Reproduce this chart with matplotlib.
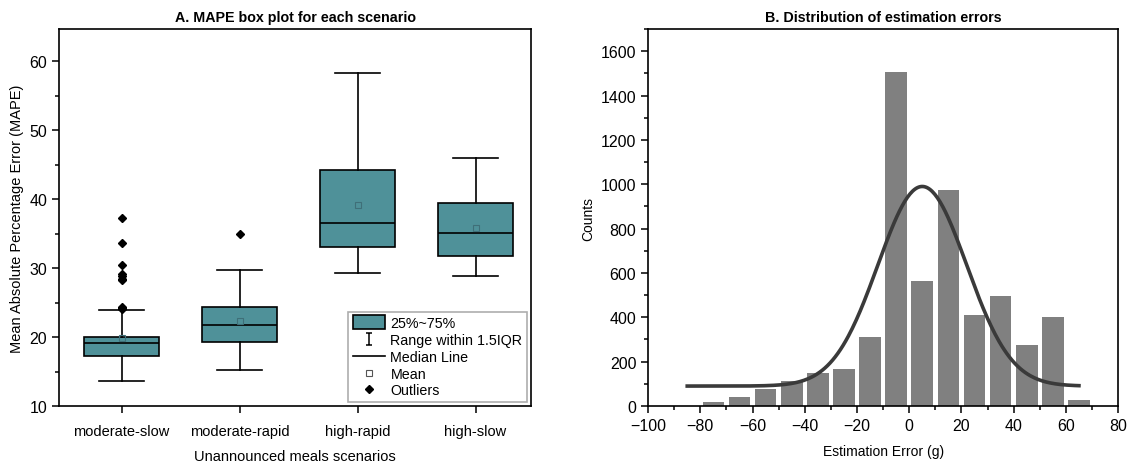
import matplotlib.pyplot as plt
import numpy as np
from matplotlib.legend_handler import HandlerPatch
from matplotlib.lines import Line2D
from matplotlib.patches import Patch, Rectangle
from matplotlib.path import Path
from matplotlib.ticker import MultipleLocator

plt.rcParams['font.family'] = ['Liberation Sans', 'DejaVu Sans']

# A. box plot summaries
scenarios = ["moderate-slow", "moderate-rapid", "high-rapid", "high-slow"]
whisker_low = [13.7, 15.2, 29.3, 28.9]
q1 = [17.3, 19.3, 33.1, 31.7]
median = [19.2, 21.8, 36.6, 35.1]
q3 = [20.0, 24.3, 44.2, 39.4]
whisker_high = [23.9, 29.8, 58.3, 46.0]
means = [19.9, 22.3, 39.2, 35.9]
outliers = [
    [37.3, 33.7, 30.5, 29.1, 28.8, 28.5, 28.3, 24.4, 24.2, 24.1],
    [35.0],
    [],
    [],
]

# B. histogram of estimation errors
bin_centers = [-75, -65, -55, -45, -35, -25, -15, -5, 5, 15, 25, 35, 45, 55, 65]
counts = [20, 40, 75, 115, 150, 165, 310, 1505, 565, 975, 410, 497, 275, 403, 28]
# gaussian fit parameters (with baseline)
fit_base = 90
fit_amp = 900
fit_center = 5
fit_sigma = 17.0
fit_range = (-85, 65)

teal = "#4f9199"
lw = 1.2

fig = plt.figure(figsize=(11.31, 4.64), dpi=100)
ax1 = fig.add_axes([0.0522, 0.1228, 0.4173, 0.8125])
ax2 = fig.add_axes([0.573, 0.1228, 0.4156, 0.8125])

stats = []
for i in range(len(scenarios)):
    stats.append(dict(med=median[i], q1=q1[i], q3=q3[i], whislo=whisker_low[i],
                      whishi=whisker_high[i], mean=means[i], fliers=outliers[i],
                      label=scenarios[i]))

ax1.bxp(stats, positions=[1, 2, 3, 4], widths=0.64, patch_artist=True,
        showmeans=True, capwidths=0.38,
        boxprops=dict(facecolor=teal, edgecolor="black", linewidth=lw),
        medianprops=dict(color="black", linewidth=lw),
        whiskerprops=dict(color="black", linewidth=lw),
        capprops=dict(color="black", linewidth=lw),
        meanprops=dict(marker="s", markersize=4, markerfacecolor="none",
                       markeredgecolor="#3f6f78", markeredgewidth=0.8),
        flierprops=dict(marker="D", markersize=4.5, markerfacecolor="black",
                        markeredgecolor="black"))

ax1.set_xlim(0.47, 4.47)
ax1.set_ylim(10, 64.7)
ax1.yaxis.set_major_locator(MultipleLocator(10))
ax1.yaxis.set_minor_locator(MultipleLocator(5))
ax1.tick_params(axis='both', which='major', labelsize=11.5, length=5, width=1.1)
ax1.tick_params(axis='y', which='minor', length=3, width=1.1)
ax1.tick_params(axis='x', labelsize=10.5, pad=8)
ax1.set_title("A. MAPE box plot for each scenario", fontsize=10.3, fontweight='bold', pad=6)
ax1.set_xlabel("Unannounced meals scenarios", fontsize=10.5, labelpad=8)
ax1.set_ylabel("Mean Absolute Percentage Error (MAPE)", fontsize=10.5)
for s in ax1.spines.values():
    s.set_linewidth(1.2)


def big_box(legend, orig_handle, xdescent, ydescent, width, height, fontsize):
    return Rectangle((-xdescent, -ydescent - 1.5), width, height + 3)


range_marker = Path([(-0.5, 1), (0.5, 1), (0, 1), (0, -1), (-0.5, -1), (0.5, -1)],
                    [Path.MOVETO, Path.LINETO, Path.MOVETO, Path.LINETO, Path.MOVETO, Path.LINETO])
box_handle = Patch(facecolor=teal, edgecolor="black", linewidth=lw)
handles = [
    box_handle,
    Line2D([], [], linestyle="none", marker=range_marker, markersize=9,
           markeredgecolor="black", markerfacecolor="none", markeredgewidth=1.1),
    Line2D([], [], color="black", linewidth=lw),
    Line2D([], [], linestyle="none", marker="s", markersize=4, markerfacecolor="none",
           markeredgecolor="#555555", markeredgewidth=0.8),
    Line2D([], [], linestyle="none", marker="D", markersize=4.5, color="black"),
]
labels = ["25%~75%", "Range within 1.5IQR", "Median Line", "Mean", "Outliers"]
leg = ax1.legend(handles, labels, loc="lower right", fontsize=10.3, frameon=True,
                 fancybox=False, edgecolor="#999999", borderpad=0.3, labelspacing=0.2,
                 handlelength=2.3, handletextpad=0.35, borderaxespad=0.3,
                 handler_map={box_handle: HandlerPatch(patch_func=big_box)})
leg.get_frame().set_linewidth(1.2)

# B. histogram
ax2.bar(bin_centers, counts, width=8.3, color="#808080", zorder=2)
xs = np.linspace(fit_range[0], fit_range[1], 300)
ys = fit_base + fit_amp * np.exp(-0.5 * ((xs - fit_center) / fit_sigma) ** 2)
ax2.plot(xs, ys, color="#3a3a3a", linewidth=2.6, zorder=3)

ax2.set_xlim(-100, 80)
ax2.set_ylim(0, 1700)
ax2.xaxis.set_major_locator(MultipleLocator(20))
ax2.xaxis.set_minor_locator(MultipleLocator(10))
ax2.yaxis.set_major_locator(MultipleLocator(200))
ax2.yaxis.set_minor_locator(MultipleLocator(100))
ax2.tick_params(axis='both', which='major', labelsize=11.5, length=5, width=1.1)
ax2.tick_params(axis='both', which='minor', length=3, width=1.1)
ax2.set_title("B. Distribution of estimation errors", fontsize=10.3, fontweight='bold', pad=6)
ax2.set_xlabel("Estimation Error (g)", fontsize=10, labelpad=8)
ax2.set_ylabel("Counts", fontsize=10)
for s in ax2.spines.values():
    s.set_linewidth(1.2)

fig.savefig("out.png", dpi=100)
